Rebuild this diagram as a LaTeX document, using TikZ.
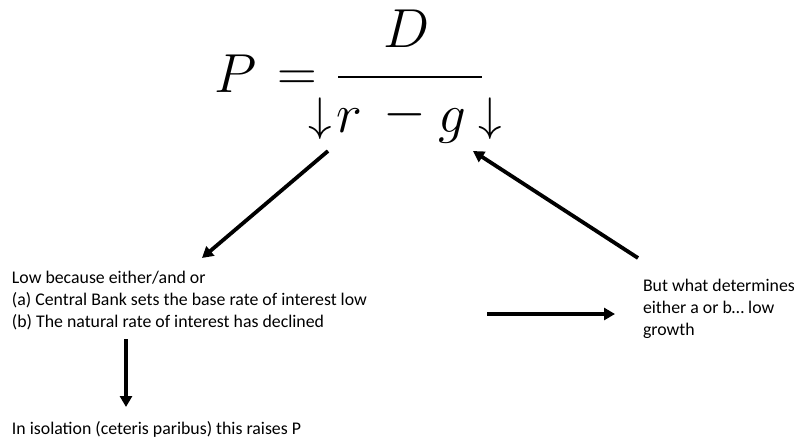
\documentclass[tikz,border=0pt]{standalone}
\usepackage{graphicx}
\usepackage{fontspec}
\setmainfont{Carlito}
\usetikzlibrary{arrows.meta}
\newcommand{\FormBig}[1]{\scalebox{2.65}{\fontsize{20.74}{24}\selectfont$#1$}}
\newcommand{\FormArr}[1]{\scalebox{2.266}{\fontsize{20.74}{24}\selectfont$#1$}}
\begin{document}
\begin{tikzpicture}[x=1pt,y=-1pt,
  body/.style={inner sep=0pt,outer sep=0pt,align=left,anchor=base west,
    font=\fontsize{17.8}{21.7}\selectfont},
  mathbig/.style={inner sep=0pt,outer sep=0pt,anchor=base},
  thick arrow/.style={line width=3.8pt,-{Triangle[length=11pt,width=12pt]}}]
\useasboundingbox (0,0) rectangle (794,439);
% formula
\node[mathbig] (P) at (236,92) {\FormBig{P}};
\node[mathbig] (eq) at (297,90) {\FormBig{=}};
\node[mathbig] (D) at (407,47) {\FormBig{D}};
\coordinate (barL) at (338,77);
\coordinate (barR) at (482,77);
\draw[line width=2.6pt] (barL) -- (barR);
\node[mathbig] (dl) at (320,130) {\FormArr{\downarrow}};
\node[mathbig] (r) at (349,132) {\FormBig{r}};
\node[mathbig] (minus) at (405,128) {\FormBig{-}};
\node[mathbig] (g) at (452,132) {\FormBig{g}};
\node[mathbig] (dr) at (490,130) {\FormArr{\downarrow}};
% texts (base anchor = last line baseline)
\node[body] (low) at (12,327) {Low because either/and or\\(a) Central Bank sets the base rate of interest low\\(b) The natural rate of interest has declined};
\node[body] (but) at (643,335) {But what determines\\either a or b\ldots\ low\\growth};
\node[body] (iso) at (12,434) {In isolation (ceteris paribus) this raises P};
% connector ends
\coordinate (a1s) at (328,151);
\coordinate (a1e) at (202,258);
\coordinate (a2s) at (638,258);
\coordinate (a2e) at (473,151);
\coordinate (a3s) at (487,314);
\coordinate (a3e) at (615,314);
\coordinate (a4s) at (126,339);
\coordinate (a4e) at (126,407);
\draw[thick arrow] (a1s) -- (a1e);
\draw[thick arrow] (a2s) -- (a2e);
\draw[thick arrow] (a3s) -- (a3e);
\draw[thick arrow] (a4s) -- (a4e);
\end{tikzpicture}
\end{document}
